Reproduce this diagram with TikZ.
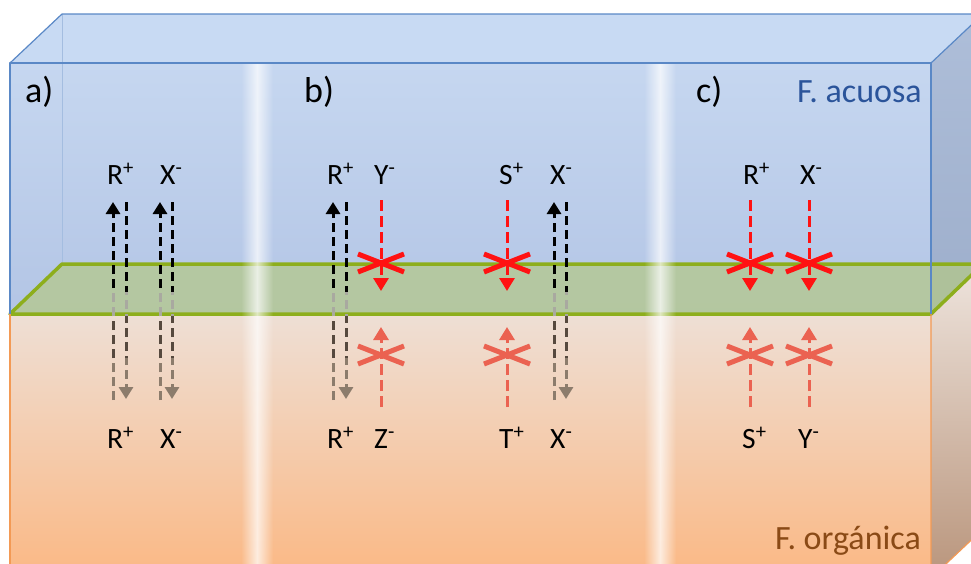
\documentclass[tikz,border=0pt]{standalone}
\usepackage{fontspec}
\setmainfont{Carlito}
\usetikzlibrary{arrows.meta,fadings}

\definecolor{topface}{HTML}{C8DAF3}
\definecolor{blueA}{HTML}{C6D7F0}
\definecolor{blueB}{HTML}{B3C5E5}
\definecolor{peachA}{HTML}{EEDFD5}
\definecolor{peachM}{HTML}{F0CBAE}
\definecolor{peachB}{HTML}{FBB884}
\definecolor{sideblueA}{HTML}{AEBED9}
\definecolor{sideblueB}{HTML}{9DAECB}
\definecolor{sidebrA}{HTML}{EEE4DD}
\definecolor{sidebrB}{HTML}{B9957C}
\definecolor{edgeblue}{HTML}{5A88C6}
\definecolor{edgeorange}{HTML}{F39A55}
\definecolor{planefill}{HTML}{B4C88A}
\definecolor{planeedge}{HTML}{8DAE1C}
\definecolor{acuosa}{HTML}{2B549A}
\definecolor{organica}{HTML}{8A4A16}
\definecolor{ionbrown}{HTML}{56493E}
\definecolor{ionbrownlight}{HTML}{8C7C6C}
\definecolor{ionfaded}{HTML}{A9A9A0}
\definecolor{blockred}{HTML}{FF1212}
\definecolor{blockredlight}{HTML}{EB6251}

\tikzfading[name=glarefade, left color=transparent!100, right color=transparent!100, middle color=transparent!15]

\tikzset{
  ion/.style={font=\fontsize{29.5}{31}\selectfont, text=black, inner sep=0pt, anchor=base west},
  phase/.style={font=\fontsize{34}{36}\selectfont, inner sep=0pt, anchor=base east},
  tag/.style={font=\fontsize{36}{38}\selectfont, text=black, inner sep=0pt, anchor=base west},
  passdash/.style={line width=3pt, dash pattern=on 9pt off 5pt, -{Triangle[width=14pt,length=12pt]}},
  blockdash/.style={line width=3pt, dash pattern=on 11pt off 5pt, -{Triangle[width=15pt,length=13pt]}},
  crossline/.style={line width=5pt},
}

\begin{document}
\begin{tikzpicture}[x=1pt,y=-1pt]
\useasboundingbox (0,0) rectangle (971,563);
\begin{scope}
\clip (0,0) rectangle (971,563);
% faces of the box
\fill[topface] (10,63) -- (931,63) -- (983,14) -- (62,14) -- cycle;
\shade[top color=blueA, bottom color=blueB] (10,63) rectangle (931,314);
\shade[top color=peachA, middle color=peachM, bottom color=peachB] (10,314) rectangle (931,578);
\shade[top color=sideblueA, bottom color=sideblueB] (931,63) -- (983,14) -- (983,264) -- (931,314) -- cycle;
\shade[top color=sidebrA, bottom color=sidebrB] (931,314) -- (983,264) -- (983,529) -- (931,578) -- cycle;
% hidden back edge
\draw[edgeblue!55, line width=0.8pt] (62,14) -- (62,264);
% interface plane
\fill[planefill, opacity=0.75] (10,314) -- (931,314) -- (983,264) -- (62,264) -- cycle;
\draw[planeedge, line width=3.5pt, line join=round] (10,314) -- (931,314) -- (983,264) -- (62,264) -- cycle;
% box edges
\draw[edgeblue, line width=1.2pt, line join=round] (10,314) -- (10,63) -- (931,63) -- (931,314);
\draw[edgeblue, line width=1.2pt, line join=round] (10,63) -- (62,14) -- (983,14);
\draw[edgeblue, line width=1.2pt] (931,63) -- (983,14);
\draw[edgeorange, line width=1.2pt] (10,314) -- (10,578);
\draw[edgeorange, line width=1.2pt] (931,314) -- (931,578) -- (983,529);
% light streaks
\foreach \gx in {257,660}{
  \fill[white, opacity=0.85, path fading=glarefade] (\gx-16,64) rectangle (\gx+16,578);
}
\end{scope}

% section and phase labels
\node[tag] (ta) at (25,102) {a)};
\node[tag] (tb) at (304,102) {b)};
\node[tag] (tc) at (696,102) {c)};
\node[phase, text=acuosa] (faq) at (922,102) {F. acuosa};
\node[phase, text=organica] (forg) at (921,549) {F. orgánica};

% ion labels, aqueous phase
\node[ion] (aR) at (107,184) {R\textsuperscript{+}};
\node[ion] (aX) at (160,184) {X\textsuperscript{-}};
\node[ion] (bR) at (327,184) {R\textsuperscript{+}};
\node[ion] (bY) at (374,184) {Y\textsuperscript{-}};
\node[ion] (bS) at (499,184) {S\textsuperscript{+}};
\node[ion] (bX) at (550,184) {X\textsuperscript{-}};
\node[ion] (cR) at (743,184) {R\textsuperscript{+}};
\node[ion] (cX) at (800,184) {X\textsuperscript{-}};
% ion labels, organic phase
\node[ion] (aR2) at (107,448) {R\textsuperscript{+}};
\node[ion] (aX2) at (160,448) {X\textsuperscript{-}};
\node[ion] (bR2) at (327,448) {R\textsuperscript{+}};
\node[ion] (bZ2) at (374,448) {Z\textsuperscript{-}};
\node[ion] (bT2) at (499,448) {T\textsuperscript{+}};
\node[ion] (bX2) at (550,448) {X\textsuperscript{-}};
\node[ion] (cS2) at (742,448) {S\textsuperscript{+}};
\node[ion] (cY2) at (798,448) {Y\textsuperscript{-}};

% transfers that take place
\foreach \x/\ya/\yb in {113/400/202, 126/202/399, 160/400/202, 172/202/399, 333/400/202, 346/202/399, 554/400/202, 566/202/399}{
  \begin{scope}\clip (\x-10,150) rectangle (\x+10,292);
    \draw[passdash, black] (\x,\ya) -- (\x,\yb);
  \end{scope}
  \begin{scope}\clip (\x-10,292) rectangle (\x+10,316);
    \draw[passdash, ionfaded] (\x,\ya) -- (\x,\yb);
  \end{scope}
  \begin{scope}\clip (\x-10,316) rectangle (\x+10,358);
    \draw[passdash, ionbrown] (\x,\ya) -- (\x,\yb);
  \end{scope}
  \begin{scope}\clip (\x-10,358) rectangle (\x+10,420);
    \draw[passdash, ionbrownlight] (\x,\ya) -- (\x,\yb);
  \end{scope}
}

% transfers that are blocked
\foreach \x in {381,507,750,809}{
  \draw[blockdash, blockred] (\x,200) -- (\x,291);
  \draw[crossline, blockred] (\x-23,272) -- (\x+23,254);
  \draw[crossline, blockred] (\x-23,254) -- (\x+23,272);
  \draw[blockdash, blockredlight] (\x,407) -- (\x,327);
  \draw[crossline, blockredlight] (\x-23,364) -- (\x+23,346);
  \draw[crossline, blockredlight] (\x-23,346) -- (\x+23,364);
}
\end{tikzpicture}
\end{document}
